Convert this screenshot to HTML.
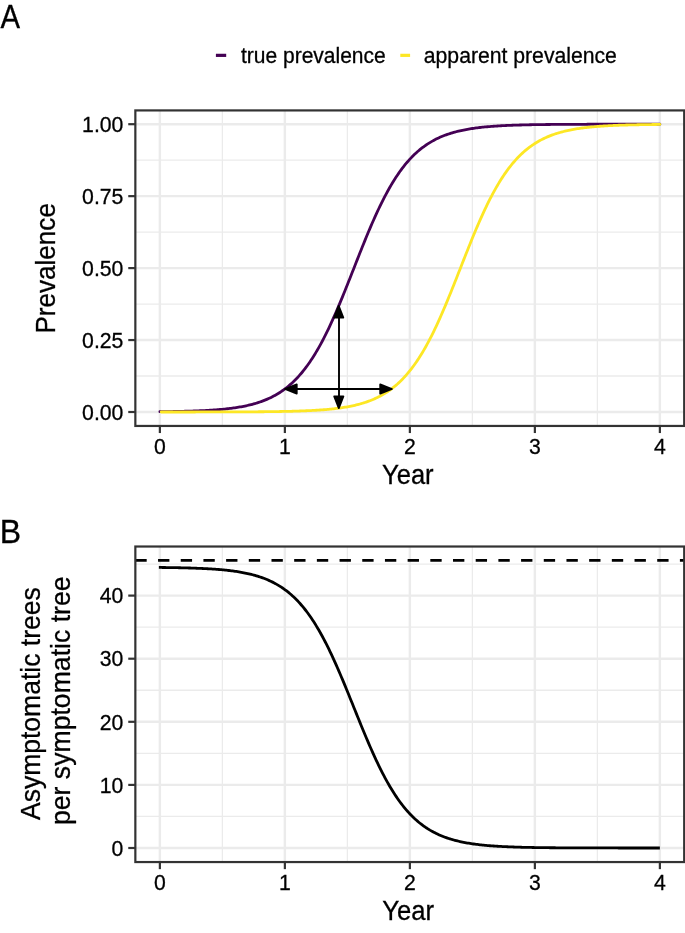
<!DOCTYPE html><html><head><meta charset="utf-8"><style>html,body{margin:0;padding:0;background:#fff;}svg{display:block;will-change:transform;}text{font-family:"Liberation Sans", sans-serif;fill:#000;stroke:#000;stroke-width:0.3px;}</style></head><body>
<svg width="685" height="933" viewBox="0 0 685 933">
<rect x="0" y="0" width="685" height="933" fill="#fff"/>
<g stroke="#EBEBEB" fill="none">
<line x1="222.37" y1="110.42" x2="222.37" y2="425.95" stroke-width="1.3"/>
<line x1="347.37" y1="110.42" x2="347.37" y2="425.95" stroke-width="1.3"/>
<line x1="472.37" y1="110.42" x2="472.37" y2="425.95" stroke-width="1.3"/>
<line x1="597.37" y1="110.42" x2="597.37" y2="425.95" stroke-width="1.3"/>
<line x1="135.35" y1="376.02" x2="684.20" y2="376.02" stroke-width="1.3"/>
<line x1="135.35" y1="304.07" x2="684.20" y2="304.07" stroke-width="1.3"/>
<line x1="135.35" y1="232.12" x2="684.20" y2="232.12" stroke-width="1.3"/>
<line x1="135.35" y1="160.17" x2="684.20" y2="160.17" stroke-width="1.3"/>
<line x1="159.87" y1="110.42" x2="159.87" y2="425.95" stroke-width="2.4"/>
<line x1="284.87" y1="110.42" x2="284.87" y2="425.95" stroke-width="2.4"/>
<line x1="409.87" y1="110.42" x2="409.87" y2="425.95" stroke-width="2.4"/>
<line x1="534.87" y1="110.42" x2="534.87" y2="425.95" stroke-width="2.4"/>
<line x1="659.87" y1="110.42" x2="659.87" y2="425.95" stroke-width="2.4"/>
<line x1="135.35" y1="412.00" x2="684.20" y2="412.00" stroke-width="2.4"/>
<line x1="135.35" y1="340.05" x2="684.20" y2="340.05" stroke-width="2.4"/>
<line x1="135.35" y1="268.10" x2="684.20" y2="268.10" stroke-width="2.4"/>
<line x1="135.35" y1="196.15" x2="684.20" y2="196.15" stroke-width="2.4"/>
<line x1="135.35" y1="124.20" x2="684.20" y2="124.20" stroke-width="2.4"/>
</g>
<g stroke="#EBEBEB" fill="none">
<line x1="222.37" y1="546.52" x2="222.37" y2="862.05" stroke-width="1.3"/>
<line x1="347.37" y1="546.52" x2="347.37" y2="862.05" stroke-width="1.3"/>
<line x1="472.37" y1="546.52" x2="472.37" y2="862.05" stroke-width="1.3"/>
<line x1="597.37" y1="546.52" x2="597.37" y2="862.05" stroke-width="1.3"/>
<line x1="135.35" y1="816.45" x2="684.20" y2="816.45" stroke-width="1.3"/>
<line x1="135.35" y1="753.35" x2="684.20" y2="753.35" stroke-width="1.3"/>
<line x1="135.35" y1="690.25" x2="684.20" y2="690.25" stroke-width="1.3"/>
<line x1="135.35" y1="627.15" x2="684.20" y2="627.15" stroke-width="1.3"/>
<line x1="135.35" y1="564.05" x2="684.20" y2="564.05" stroke-width="1.3"/>
<line x1="159.87" y1="546.52" x2="159.87" y2="862.05" stroke-width="2.4"/>
<line x1="284.87" y1="546.52" x2="284.87" y2="862.05" stroke-width="2.4"/>
<line x1="409.87" y1="546.52" x2="409.87" y2="862.05" stroke-width="2.4"/>
<line x1="534.87" y1="546.52" x2="534.87" y2="862.05" stroke-width="2.4"/>
<line x1="659.87" y1="546.52" x2="659.87" y2="862.05" stroke-width="2.4"/>
<line x1="135.35" y1="848.00" x2="684.20" y2="848.00" stroke-width="2.4"/>
<line x1="135.35" y1="784.90" x2="684.20" y2="784.90" stroke-width="2.4"/>
<line x1="135.35" y1="721.80" x2="684.20" y2="721.80" stroke-width="2.4"/>
<line x1="135.35" y1="658.70" x2="684.20" y2="658.70" stroke-width="2.4"/>
<line x1="135.35" y1="595.60" x2="684.20" y2="595.60" stroke-width="2.4"/>
</g>
<path d="M159.87,411.70 L161.12,411.69 L162.37,411.67 L163.62,411.66 L164.87,411.64 L166.12,411.62 L167.37,411.61 L168.62,411.59 L169.87,411.57 L171.12,411.55 L172.37,411.53 L173.62,411.51 L174.87,411.49 L176.12,411.47 L177.37,411.44 L178.62,411.42 L179.87,411.39 L181.12,411.36 L182.37,411.33 L183.62,411.30 L184.87,411.27 L186.12,411.24 L187.37,411.21 L188.62,411.17 L189.87,411.13 L191.12,411.09 L192.37,411.05 L193.62,411.01 L194.87,410.97 L196.12,410.92 L197.37,410.87 L198.62,410.82 L199.87,410.77 L201.12,410.71 L202.37,410.65 L203.62,410.59 L204.87,410.53 L206.12,410.46 L207.37,410.39 L208.62,410.32 L209.87,410.25 L211.12,410.17 L212.37,410.08 L213.62,410.00 L214.87,409.91 L216.12,409.82 L217.37,409.72 L218.62,409.61 L219.87,409.51 L221.12,409.40 L222.37,409.28 L223.62,409.16 L224.87,409.03 L226.12,408.90 L227.37,408.76 L228.62,408.61 L229.87,408.46 L231.12,408.31 L232.37,408.14 L233.62,407.97 L234.87,407.79 L236.12,407.60 L237.37,407.41 L238.62,407.20 L239.87,406.99 L241.12,406.77 L242.37,406.54 L243.62,406.29 L244.87,406.04 L246.12,405.78 L247.37,405.50 L248.62,405.22 L249.87,404.92 L251.12,404.61 L252.37,404.28 L253.62,403.94 L254.87,403.59 L256.12,403.22 L257.37,402.83 L258.62,402.43 L259.87,402.02 L261.12,401.58 L262.37,401.13 L263.62,400.66 L264.87,400.17 L266.12,399.65 L267.37,399.12 L268.62,398.57 L269.87,397.99 L271.12,397.39 L272.37,396.76 L273.62,396.11 L274.87,395.43 L276.12,394.73 L277.37,394.00 L278.62,393.24 L279.87,392.45 L281.12,391.63 L282.37,390.77 L283.62,389.89 L284.87,388.97 L286.12,388.02 L287.37,387.03 L288.62,386.00 L289.87,384.93 L291.12,383.83 L292.37,382.69 L293.62,381.50 L294.87,380.28 L296.12,379.01 L297.37,377.69 L298.62,376.34 L299.87,374.93 L301.12,373.48 L302.37,371.98 L303.62,370.44 L304.87,368.84 L306.12,367.19 L307.37,365.49 L308.62,363.75 L309.87,361.94 L311.12,360.09 L312.37,358.18 L313.62,356.22 L314.87,354.21 L316.12,352.14 L317.37,350.02 L318.62,347.84 L319.87,345.61 L321.12,343.32 L322.37,340.99 L323.62,338.60 L324.87,336.15 L326.12,333.66 L327.37,331.11 L328.62,328.52 L329.87,325.87 L331.12,323.18 L332.37,320.45 L333.62,317.67 L334.87,314.84 L336.12,311.98 L337.37,309.07 L338.62,306.13 L339.87,303.16 L341.12,300.15 L342.37,297.11 L343.62,294.05 L344.87,290.96 L346.12,287.85 L347.37,284.72 L348.62,281.58 L349.87,278.42 L351.12,275.25 L352.37,272.07 L353.62,268.90 L354.87,265.72 L356.12,262.54 L357.37,259.37 L358.62,256.20 L359.87,253.05 L361.12,249.91 L362.37,246.79 L363.62,243.69 L364.87,240.62 L366.12,237.56 L367.37,234.54 L368.62,231.55 L369.87,228.59 L371.12,225.67 L372.37,222.79 L373.62,219.94 L374.87,217.14 L376.12,214.38 L377.37,211.67 L378.62,209.00 L379.87,206.38 L381.12,203.81 L382.37,201.29 L383.62,198.82 L384.87,196.40 L386.12,194.04 L387.37,191.73 L388.62,189.47 L389.87,187.27 L391.12,185.12 L392.37,183.02 L393.62,180.98 L394.87,178.99 L396.12,177.06 L397.37,175.18 L398.62,173.35 L399.87,171.57 L401.12,169.85 L402.37,168.18 L403.62,166.56 L404.87,164.98 L406.12,163.46 L407.37,161.99 L408.62,160.56 L409.87,159.18 L411.12,157.84 L412.37,156.55 L413.62,155.30 L414.87,154.10 L416.12,152.94 L417.37,151.81 L418.62,150.73 L419.87,149.68 L421.12,148.67 L422.37,147.70 L423.62,146.77 L424.87,145.86 L426.12,145.00 L427.37,144.16 L428.62,143.35 L429.87,142.58 L431.12,141.83 L432.37,141.11 L433.62,140.42 L434.87,139.76 L436.12,139.12 L437.37,138.51 L438.62,137.92 L439.87,137.35 L441.12,136.81 L442.37,136.29 L443.62,135.79 L444.87,135.30 L446.12,134.84 L447.37,134.40 L448.62,133.97 L449.87,133.56 L451.12,133.17 L452.37,132.80 L453.62,132.43 L454.87,132.09 L456.12,131.76 L457.37,131.44 L458.62,131.13 L459.87,130.84 L461.12,130.56 L462.37,130.29 L463.62,130.03 L464.87,129.78 L466.12,129.55 L467.37,129.32 L468.62,129.10 L469.87,128.89 L471.12,128.69 L472.37,128.50 L473.62,128.32 L474.87,128.14 L476.12,127.98 L477.37,127.81 L478.62,127.66 L479.87,127.51 L481.12,127.37 L482.37,127.23 L483.62,127.10 L484.87,126.98 L486.12,126.86 L487.37,126.75 L488.62,126.64 L489.87,126.53 L491.12,126.43 L492.37,126.34 L493.62,126.25 L494.87,126.16 L496.12,126.07 L497.37,125.99 L498.62,125.92 L499.87,125.84 L501.12,125.77 L502.37,125.70 L503.62,125.64 L504.87,125.58 L506.12,125.52 L507.37,125.46 L508.62,125.41 L509.87,125.36 L511.12,125.31 L512.37,125.26 L513.62,125.21 L514.87,125.17 L516.12,125.13 L517.37,125.09 L518.62,125.05 L519.87,125.01 L521.12,124.98 L522.37,124.94 L523.62,124.91 L524.87,124.88 L526.12,124.85 L527.37,124.82 L528.62,124.80 L529.87,124.77 L531.12,124.75 L532.37,124.72 L533.62,124.70 L534.87,124.68 L536.12,124.66 L537.37,124.64 L538.62,124.62 L539.87,124.60 L541.12,124.58 L542.37,124.57 L543.62,124.55 L544.87,124.54 L546.12,124.52 L547.37,124.51 L548.62,124.49 L549.87,124.48 L551.12,124.47 L552.37,124.46 L553.62,124.45 L554.87,124.44 L556.12,124.43 L557.37,124.42 L558.62,124.41 L559.87,124.40 L561.12,124.39 L562.37,124.38 L563.62,124.37 L564.87,124.37 L566.12,124.36 L567.37,124.35 L568.62,124.35 L569.87,124.34 L571.12,124.33 L572.37,124.33 L573.62,124.32 L574.87,124.32 L576.12,124.31 L577.37,124.31 L578.62,124.30 L579.87,124.30 L581.12,124.29 L582.37,124.29 L583.62,124.29 L584.87,124.28 L586.12,124.28 L587.37,124.27 L588.62,124.27 L589.87,124.27 L591.12,124.27 L592.37,124.26 L593.62,124.26 L594.87,124.26 L596.12,124.25 L597.37,124.25 L598.62,124.25 L599.87,124.25 L601.12,124.25 L602.37,124.24 L603.62,124.24 L604.87,124.24 L606.12,124.24 L607.37,124.24 L608.62,124.24 L609.87,124.23 L611.12,124.23 L612.37,124.23 L613.62,124.23 L614.87,124.23 L616.12,124.23 L617.37,124.23 L618.62,124.22 L619.87,124.22 L621.12,124.22 L622.37,124.22 L623.62,124.22 L624.87,124.22 L626.12,124.22 L627.37,124.22 L628.62,124.22 L629.87,124.22 L631.12,124.22 L632.37,124.22 L633.62,124.21 L634.87,124.21 L636.12,124.21 L637.37,124.21 L638.62,124.21 L639.87,124.21 L641.12,124.21 L642.37,124.21 L643.62,124.21 L644.87,124.21 L646.12,124.21 L647.37,124.21 L648.62,124.21 L649.87,124.21 L651.12,124.21 L652.37,124.21 L653.62,124.21 L654.87,124.21 L656.12,124.21 L657.37,124.21 L658.62,124.21 L659.87,124.21" fill="none" stroke="#440154" stroke-width="2.8" stroke-linejoin="round" stroke-linecap="round"/>
<path d="M161.25,411.99 L162.49,411.99 L163.74,411.99 L164.99,411.99 L166.24,411.99 L167.49,411.99 L168.74,411.99 L169.99,411.99 L171.24,411.99 L172.49,411.99 L173.74,411.99 L174.99,411.99 L176.24,411.99 L177.49,411.99 L178.74,411.99 L179.99,411.99 L181.24,411.99 L182.49,411.98 L183.74,411.98 L184.99,411.98 L186.24,411.98 L187.49,411.98 L188.74,411.98 L189.99,411.98 L191.24,411.98 L192.49,411.98 L193.74,411.98 L194.99,411.98 L196.24,411.97 L197.49,411.97 L198.74,411.97 L199.99,411.97 L201.23,411.97 L202.48,411.97 L203.73,411.97 L204.98,411.97 L206.23,411.96 L207.48,411.96 L208.73,411.96 L209.98,411.96 L211.23,411.96 L212.48,411.96 L213.73,411.95 L214.98,411.95 L216.23,411.95 L217.48,411.95 L218.73,411.94 L219.98,411.94 L221.23,411.94 L222.48,411.94 L223.73,411.93 L224.98,411.93 L226.23,411.93 L227.48,411.92 L228.73,411.92 L229.98,411.92 L231.23,411.91 L232.48,411.91 L233.73,411.91 L234.98,411.90 L236.23,411.90 L237.48,411.89 L238.73,411.89 L239.98,411.88 L241.22,411.88 L242.47,411.87 L243.72,411.86 L244.97,411.86 L246.22,411.85 L247.47,411.85 L248.72,411.84 L249.97,411.83 L251.22,411.82 L252.47,411.82 L253.72,411.81 L254.97,411.80 L256.22,411.79 L257.47,411.78 L258.72,411.77 L259.97,411.76 L261.22,411.75 L262.47,411.74 L263.72,411.73 L264.97,411.71 L266.22,411.70 L267.47,411.69 L268.72,411.67 L269.97,411.66 L271.22,411.64 L272.47,411.63 L273.72,411.61 L274.97,411.59 L276.22,411.57 L277.47,411.55 L278.72,411.53 L279.97,411.51 L281.21,411.49 L282.46,411.47 L283.71,411.44 L284.96,411.42 L286.21,411.39 L287.46,411.37 L288.71,411.34 L289.96,411.31 L291.21,411.28 L292.46,411.24 L293.71,411.21 L294.96,411.17 L296.21,411.14 L297.46,411.10 L298.71,411.06 L299.96,411.02 L301.21,410.97 L302.46,410.92 L303.71,410.88 L304.96,410.83 L306.21,410.77 L307.46,410.72 L308.71,410.66 L309.96,410.60 L311.21,410.54 L312.46,410.47 L313.71,410.40 L314.96,410.33 L316.21,410.26 L317.46,410.18 L318.71,410.10 L319.96,410.01 L321.20,409.92 L322.45,409.83 L323.70,409.73 L324.95,409.63 L326.20,409.52 L327.45,409.41 L328.70,409.30 L329.95,409.17 L331.20,409.05 L332.45,408.92 L333.70,408.78 L334.95,408.63 L336.20,408.48 L337.45,408.33 L338.70,408.16 L339.95,407.99 L341.20,407.81 L342.45,407.63 L343.70,407.43 L344.95,407.23 L346.20,407.02 L347.45,406.80 L348.70,406.57 L349.95,406.33 L351.20,406.08 L352.45,405.81 L353.70,405.54 L354.95,405.26 L356.20,404.96 L357.45,404.65 L358.70,404.33 L359.95,403.99 L361.19,403.64 L362.44,403.27 L363.69,402.89 L364.94,402.49 L366.19,402.08 L367.44,401.64 L368.69,401.19 L369.94,400.73 L371.19,400.24 L372.44,399.73 L373.69,399.20 L374.94,398.65 L376.19,398.07 L377.44,397.47 L378.69,396.85 L379.94,396.21 L381.19,395.53 L382.44,394.83 L383.69,394.11 L384.94,393.35 L386.19,392.56 L387.44,391.75 L388.69,390.90 L389.94,390.02 L391.19,389.11 L392.44,388.16 L393.69,387.17 L394.94,386.15 L396.19,385.09 L397.44,384.00 L398.69,382.86 L399.94,381.68 L401.18,380.46 L402.43,379.20 L403.68,377.89 L404.93,376.54 L406.18,375.14 L407.43,373.70 L408.68,372.21 L409.93,370.67 L411.18,369.08 L412.43,367.44 L413.68,365.75 L414.93,364.01 L416.18,362.22 L417.43,360.37 L418.68,358.48 L419.93,356.52 L421.18,354.52 L422.43,352.46 L423.68,350.34 L424.93,348.18 L426.18,345.95 L427.43,343.68 L428.68,341.35 L429.93,338.97 L431.18,336.53 L432.43,334.05 L433.68,331.51 L434.93,328.92 L436.18,326.29 L437.43,323.60 L438.68,320.88 L439.93,318.10 L441.17,315.29 L442.42,312.43 L443.67,309.53 L444.92,306.60 L446.17,303.63 L447.42,300.63 L448.67,297.59 L449.92,294.54 L451.17,291.45 L452.42,288.34 L453.67,285.22 L454.92,282.08 L456.17,278.92 L457.42,275.76 L458.67,272.58 L459.92,269.40 L461.17,266.22 L462.42,263.05 L463.67,259.87 L464.92,256.71 L466.17,253.56 L467.42,250.42 L468.67,247.29 L469.92,244.19 L471.17,241.11 L472.42,238.06 L473.67,235.03 L474.92,232.04 L476.17,229.07 L477.42,226.15 L478.67,223.26 L479.92,220.40 L481.16,217.60 L482.41,214.83 L483.66,212.11 L484.91,209.43 L486.16,206.81 L487.41,204.23 L488.66,201.70 L489.91,199.22 L491.16,196.80 L492.41,194.43 L493.66,192.11 L494.91,189.84 L496.16,187.63 L497.41,185.47 L498.66,183.37 L499.91,181.32 L501.16,179.32 L502.41,177.38 L503.66,175.49 L504.91,173.65 L506.16,171.87 L507.41,170.14 L508.66,168.46 L509.91,166.83 L511.16,165.25 L512.41,163.72 L513.66,162.24 L514.91,160.80 L516.16,159.41 L517.41,158.07 L518.66,156.77 L519.91,155.52 L521.15,154.30 L522.40,153.13 L523.65,152.00 L524.90,150.91 L526.15,149.86 L527.40,148.85 L528.65,147.87 L529.90,146.93 L531.15,146.02 L532.40,145.14 L533.65,144.30 L534.90,143.49 L536.15,142.71 L537.40,141.96 L538.65,141.24 L539.90,140.54 L541.15,139.88 L542.40,139.23 L543.65,138.62 L544.90,138.02 L546.15,137.45 L547.40,136.91 L548.65,136.38 L549.90,135.87 L551.15,135.39 L552.40,134.92 L553.65,134.48 L554.90,134.05 L556.15,133.64 L557.40,133.24 L558.65,132.86 L559.90,132.50 L561.14,132.15 L562.39,131.81 L563.64,131.49 L564.89,131.19 L566.14,130.89 L567.39,130.61 L568.64,130.34 L569.89,130.08 L571.14,129.83 L572.39,129.59 L573.64,129.36 L574.89,129.14 L576.14,128.93 L577.39,128.73 L578.64,128.54 L579.89,128.35 L581.14,128.18 L582.39,128.01 L583.64,127.84 L584.89,127.69 L586.14,127.54 L587.39,127.40 L588.64,127.26 L589.89,127.13 L591.14,127.00 L592.39,126.88 L593.64,126.77 L594.89,126.66 L596.14,126.55 L597.39,126.45 L598.64,126.36 L599.89,126.26 L601.13,126.17 L602.38,126.09 L603.63,126.01 L604.88,125.93 L606.13,125.86 L607.38,125.78 L608.63,125.72 L609.88,125.65 L611.13,125.59 L612.38,125.53 L613.63,125.47 L614.88,125.42 L616.13,125.36 L617.38,125.31 L618.63,125.27 L619.88,125.22 L621.13,125.18 L622.38,125.13 L623.63,125.09 L624.88,125.06 L626.13,125.02 L627.38,124.98 L628.63,124.95 L629.88,124.92 L631.13,124.89 L632.38,124.86 L633.63,124.83 L634.88,124.80 L636.13,124.78 L637.38,124.75 L638.63,124.73 L639.88,124.70 L641.12,124.68 L642.37,124.66 L643.62,124.64 L644.87,124.62 L646.12,124.60 L647.37,124.59 L648.62,124.57 L649.87,124.55 L651.12,124.54 L652.37,124.52 L653.62,124.51 L654.87,124.50 L656.12,124.48 L657.37,124.47 L658.62,124.46 L659.87,124.45" fill="none" stroke="#FDE725" stroke-width="2.8" stroke-linejoin="round" stroke-linecap="round"/>
<line x1="287.05" y1="389.0" x2="389.90" y2="389.0" stroke="#000" stroke-width="1.9"/>
<polygon points="284.95,389.00 296.75,384.40 296.75,393.60" fill="#000" stroke="#000" stroke-width="1.8" stroke-linejoin="round"/>
<polygon points="392.00,389.00 380.20,393.60 380.20,384.40" fill="#000" stroke="#000" stroke-width="1.8" stroke-linejoin="round"/>
<line x1="339.0" y1="308.00" x2="339.0" y2="406.00" stroke="#000" stroke-width="1.9"/>
<polygon points="338.70,305.90 343.30,317.70 334.10,317.70" fill="#000" stroke="#000" stroke-width="1.8" stroke-linejoin="round"/>
<polygon points="338.80,408.10 334.20,396.30 343.40,396.30" fill="#000" stroke="#000" stroke-width="1.8" stroke-linejoin="round"/>
<line x1="135.35" y1="560.33" x2="684.20" y2="560.33" stroke="#000" stroke-width="2.8" stroke-dasharray="11.345 11.345"/>
<path d="M158.87,567.45 L160.12,567.46 L161.37,567.47 L162.62,567.49 L163.87,567.50 L165.12,567.52 L166.37,567.53 L167.62,567.55 L168.87,567.57 L170.11,567.59 L171.36,567.60 L172.61,567.62 L173.86,567.65 L175.11,567.67 L176.36,567.69 L177.61,567.71 L178.86,567.74 L180.11,567.76 L181.36,567.79 L182.61,567.82 L183.86,567.85 L185.11,567.88 L186.36,567.91 L187.61,567.95 L188.86,567.98 L190.10,568.02 L191.35,568.06 L192.60,568.10 L193.85,568.14 L195.10,568.18 L196.35,568.23 L197.60,568.28 L198.85,568.33 L200.10,568.38 L201.35,568.43 L202.60,568.49 L203.85,568.55 L205.10,568.61 L206.35,568.68 L207.60,568.74 L208.85,568.82 L210.09,568.89 L211.34,568.97 L212.59,569.05 L213.84,569.13 L215.09,569.22 L216.34,569.31 L217.59,569.41 L218.84,569.51 L220.09,569.61 L221.34,569.72 L222.59,569.84 L223.84,569.96 L225.09,570.08 L226.34,570.21 L227.59,570.35 L228.84,570.49 L230.08,570.64 L231.33,570.80 L232.58,570.96 L233.83,571.13 L235.08,571.30 L236.33,571.49 L237.58,571.68 L238.83,571.88 L240.08,572.09 L241.33,572.31 L242.58,572.53 L243.83,572.77 L245.08,573.02 L246.33,573.28 L247.58,573.55 L248.83,573.83 L250.07,574.12 L251.32,574.43 L252.57,574.75 L253.82,575.08 L255.07,575.43 L256.32,575.79 L257.57,576.17 L258.82,576.56 L260.07,576.97 L261.32,577.40 L262.57,577.84 L263.82,578.31 L265.07,578.79 L266.32,579.29 L267.57,579.81 L268.82,580.36 L270.06,580.93 L271.31,581.52 L272.56,582.13 L273.81,582.77 L275.06,583.43 L276.31,584.12 L277.56,584.84 L278.81,585.59 L280.06,586.36 L281.31,587.17 L282.56,588.00 L283.81,588.87 L285.06,589.77 L286.31,590.71 L287.56,591.68 L288.81,592.69 L290.05,593.73 L291.30,594.81 L292.55,595.93 L293.80,597.09 L295.05,598.30 L296.30,599.54 L297.55,600.83 L298.80,602.16 L300.05,603.53 L301.30,604.96 L302.55,606.42 L303.80,607.94 L305.05,609.50 L306.30,611.12 L307.55,612.78 L308.80,614.49 L310.04,616.26 L311.29,618.07 L312.54,619.94 L313.79,621.86 L315.04,623.83 L316.29,625.86 L317.54,627.93 L318.79,630.06 L320.04,632.25 L321.29,634.48 L322.54,636.77 L323.79,639.11 L325.04,641.50 L326.29,643.94 L327.54,646.43 L328.79,648.96 L330.03,651.55 L331.28,654.18 L332.53,656.85 L333.78,659.57 L335.03,662.33 L336.28,665.13 L337.53,667.97 L338.78,670.84 L340.03,673.75 L341.28,676.68 L342.53,679.65 L343.78,682.64 L345.03,685.65 L346.28,688.69 L347.53,691.74 L348.78,694.81 L350.02,697.90 L351.27,700.99 L352.52,704.08 L353.77,707.19 L355.02,710.29 L356.27,713.39 L357.52,716.48 L358.77,719.56 L360.02,722.64 L361.27,725.69 L362.52,728.73 L363.77,731.76 L365.02,734.75 L366.27,737.73 L367.52,740.67 L368.77,743.58 L370.01,746.47 L371.26,749.31 L372.51,752.12 L373.76,754.89 L375.01,757.62 L376.26,760.30 L377.51,762.95 L378.76,765.54 L380.01,768.09 L381.26,770.59 L382.51,773.05 L383.76,775.45 L385.01,777.80 L386.26,780.10 L387.51,782.35 L388.76,784.55 L390.00,786.69 L391.25,788.78 L392.50,790.82 L393.75,792.80 L395.00,794.74 L396.25,796.62 L397.50,798.45 L398.75,800.22 L400.00,801.95 L401.25,803.63 L402.50,805.25 L403.75,806.83 L405.00,808.36 L406.25,809.84 L407.50,811.27 L408.75,812.66 L409.99,814.00 L411.24,815.30 L412.49,816.55 L413.74,817.77 L414.99,818.94 L416.24,820.07 L417.49,821.16 L418.74,822.21 L419.99,823.23 L421.24,824.21 L422.49,825.15 L423.74,826.06 L424.99,826.94 L426.24,827.79 L427.49,828.60 L428.74,829.38 L429.98,830.14 L431.23,830.86 L432.48,831.56 L433.73,832.23 L434.98,832.87 L436.23,833.49 L437.48,834.09 L438.73,834.66 L439.98,835.21 L441.23,835.74 L442.48,836.25 L443.73,836.74 L444.98,837.20 L446.23,837.65 L447.48,838.08 L448.73,838.50 L449.97,838.90 L451.22,839.28 L452.47,839.64 L453.72,839.99 L454.97,840.33 L456.22,840.65 L457.47,840.96 L458.72,841.26 L459.97,841.54 L461.22,841.82 L462.47,842.08 L463.72,842.33 L464.97,842.57 L466.22,842.80 L467.47,843.02 L468.72,843.23 L469.96,843.43 L471.21,843.63 L472.46,843.82 L473.71,843.99 L474.96,844.16 L476.21,844.33 L477.46,844.48 L478.71,844.63 L479.96,844.78 L481.21,844.92 L482.46,845.05 L483.71,845.17 L484.96,845.30 L486.21,845.41 L487.46,845.52 L488.71,845.63 L489.95,845.73 L491.20,845.83 L492.45,845.92 L493.70,846.01 L494.95,846.09 L496.20,846.18 L497.45,846.26 L498.70,846.33 L499.95,846.40 L501.20,846.47 L502.45,846.54 L503.70,846.60 L504.95,846.66 L506.20,846.72 L507.45,846.77 L508.70,846.83 L509.94,846.88 L511.19,846.92 L512.44,846.97 L513.69,847.01 L514.94,847.06 L516.19,847.10 L517.44,847.14 L518.69,847.17 L519.94,847.21 L521.19,847.24 L522.44,847.28 L523.69,847.31 L524.94,847.34 L526.19,847.37 L527.44,847.39 L528.69,847.42 L529.93,847.44 L531.18,847.47 L532.43,847.49 L533.68,847.51 L534.93,847.53 L536.18,847.55 L537.43,847.57 L538.68,847.59 L539.93,847.61 L541.18,847.63 L542.43,847.64 L543.68,847.66 L544.93,847.67 L546.18,847.69 L547.43,847.70 L548.68,847.71 L549.92,847.73 L551.17,847.74 L552.42,847.75 L553.67,847.76 L554.92,847.77 L556.17,847.78 L557.42,847.79 L558.67,847.80 L559.92,847.81 L561.17,847.82 L562.42,847.82 L563.67,847.83 L564.92,847.84 L566.17,847.85 L567.42,847.85 L568.67,847.86 L569.91,847.86 L571.16,847.87 L572.41,847.88 L573.66,847.88 L574.91,847.89 L576.16,847.89 L577.41,847.90 L578.66,847.90 L579.91,847.90 L581.16,847.91 L582.41,847.91 L583.66,847.92 L584.91,847.92 L586.16,847.92 L587.41,847.93 L588.66,847.93 L589.90,847.93 L591.15,847.94 L592.40,847.94 L593.65,847.94 L594.90,847.94 L596.15,847.95 L597.40,847.95 L598.65,847.95 L599.90,847.95 L601.15,847.96 L602.40,847.96 L603.65,847.96 L604.90,847.96 L606.15,847.96 L607.40,847.96 L608.65,847.97 L609.89,847.97 L611.14,847.97 L612.39,847.97 L613.64,847.97 L614.89,847.97 L616.14,847.97 L617.39,847.97 L618.64,847.98 L619.89,847.98 L621.14,847.98 L622.39,847.98 L623.64,847.98 L624.89,847.98 L626.14,847.98 L627.39,847.98 L628.64,847.98 L629.88,847.98 L631.13,847.98 L632.38,847.99 L633.63,847.99 L634.88,847.99 L636.13,847.99 L637.38,847.99 L638.63,847.99 L639.88,847.99 L641.13,847.99 L642.38,847.99 L643.63,847.99 L644.88,847.99 L646.13,847.99 L647.38,847.99 L648.63,847.99 L649.87,847.99 L651.12,847.99 L652.37,847.99 L653.62,847.99 L654.87,847.99 L656.12,847.99 L657.37,847.99 L658.62,847.99 L659.87,847.99" fill="none" stroke="#000" stroke-width="2.8" stroke-linejoin="round"/>
<rect x="135.35" y="110.42" width="548.85" height="315.53" fill="none" stroke="#333333" stroke-width="2.2"/>
<g stroke="#333333" stroke-width="2.2">
<line x1="159.87" y1="425.95" x2="159.87" y2="433.05"/>
<line x1="284.87" y1="425.95" x2="284.87" y2="433.05"/>
<line x1="409.87" y1="425.95" x2="409.87" y2="433.05"/>
<line x1="534.87" y1="425.95" x2="534.87" y2="433.05"/>
<line x1="659.87" y1="425.95" x2="659.87" y2="433.05"/>
<line x1="128.25" y1="412.00" x2="135.35" y2="412.00"/>
<line x1="128.25" y1="340.05" x2="135.35" y2="340.05"/>
<line x1="128.25" y1="268.10" x2="135.35" y2="268.10"/>
<line x1="128.25" y1="196.15" x2="135.35" y2="196.15"/>
<line x1="128.25" y1="124.20" x2="135.35" y2="124.20"/>
</g>
<rect x="135.35" y="546.52" width="548.85" height="315.53" fill="none" stroke="#333333" stroke-width="2.2"/>
<g stroke="#333333" stroke-width="2.2">
<line x1="159.87" y1="862.05" x2="159.87" y2="869.15"/>
<line x1="284.87" y1="862.05" x2="284.87" y2="869.15"/>
<line x1="409.87" y1="862.05" x2="409.87" y2="869.15"/>
<line x1="534.87" y1="862.05" x2="534.87" y2="869.15"/>
<line x1="659.87" y1="862.05" x2="659.87" y2="869.15"/>
<line x1="128.25" y1="848.00" x2="135.35" y2="848.00"/>
<line x1="128.25" y1="784.90" x2="135.35" y2="784.90"/>
<line x1="128.25" y1="721.80" x2="135.35" y2="721.80"/>
<line x1="128.25" y1="658.70" x2="135.35" y2="658.70"/>
<line x1="128.25" y1="595.60" x2="135.35" y2="595.60"/>
</g>
<line x1="215.9" y1="55.35" x2="226.2" y2="55.35" stroke="#440154" stroke-width="3.2"/>
<line x1="400.3" y1="55.35" x2="410.1" y2="55.35" stroke="#FDE725" stroke-width="3.2"/>
<text x="0.60" y="27.70" font-size="32.6" textLength="19.54" lengthAdjust="spacingAndGlyphs">A</text>
<text x="-0.20" y="542.70" font-size="32.6" textLength="21.34" lengthAdjust="spacingAndGlyphs">B</text>
<text x="241.00" y="62.80" font-size="22.0" textLength="144.69" lengthAdjust="spacingAndGlyphs">true prevalence</text>
<text x="423.80" y="62.80" font-size="22.0" textLength="193.09" lengthAdjust="spacingAndGlyphs">apparent prevalence</text>
<text x="382.00" y="483.60" font-size="27.6" textLength="51.62" lengthAdjust="spacingAndGlyphs">Year</text>
<text x="382.20" y="919.80" font-size="27.6" textLength="51.85" lengthAdjust="spacingAndGlyphs">Year</text>
<text transform="translate(55.10,333.60) rotate(-90)" font-size="27.6" textLength="130.50" lengthAdjust="spacingAndGlyphs">Prevalence</text>
<text transform="translate(40.30,820.00) rotate(-90)" font-size="27.6" textLength="232.72" lengthAdjust="spacingAndGlyphs">Asymptomatic trees</text>
<text transform="translate(69.80,825.00) rotate(-90)" font-size="27.6" textLength="248.56" lengthAdjust="spacingAndGlyphs">per symptomatic tree</text>
<text x="123.40" y="419.50" font-size="22.0" textLength="41.31" lengthAdjust="spacingAndGlyphs" text-anchor="end">0.00</text>
<text x="123.40" y="347.55" font-size="22.0" textLength="41.31" lengthAdjust="spacingAndGlyphs" text-anchor="end">0.25</text>
<text x="123.40" y="275.60" font-size="22.0" textLength="41.31" lengthAdjust="spacingAndGlyphs" text-anchor="end">0.50</text>
<text x="123.40" y="203.65" font-size="22.0" textLength="41.31" lengthAdjust="spacingAndGlyphs" text-anchor="end">0.75</text>
<text x="123.40" y="131.70" font-size="22.0" textLength="41.31" lengthAdjust="spacingAndGlyphs" text-anchor="end">1.00</text>
<text x="123.40" y="855.70" font-size="22.0" textLength="11.80" lengthAdjust="spacingAndGlyphs" text-anchor="end">0</text>
<text x="123.40" y="792.60" font-size="22.0" textLength="23.61" lengthAdjust="spacingAndGlyphs" text-anchor="end">10</text>
<text x="123.40" y="729.50" font-size="22.0" textLength="23.61" lengthAdjust="spacingAndGlyphs" text-anchor="end">20</text>
<text x="123.40" y="666.40" font-size="22.0" textLength="23.61" lengthAdjust="spacingAndGlyphs" text-anchor="end">30</text>
<text x="123.40" y="603.30" font-size="22.0" textLength="23.61" lengthAdjust="spacingAndGlyphs" text-anchor="end">40</text>
<text x="159.87" y="453.90" font-size="22.0" textLength="11.80" lengthAdjust="spacingAndGlyphs" text-anchor="middle">0</text>
<text x="159.87" y="889.70" font-size="22.0" textLength="11.80" lengthAdjust="spacingAndGlyphs" text-anchor="middle">0</text>
<text x="284.87" y="453.90" font-size="22.0" textLength="11.80" lengthAdjust="spacingAndGlyphs" text-anchor="middle">1</text>
<text x="284.87" y="889.70" font-size="22.0" textLength="11.80" lengthAdjust="spacingAndGlyphs" text-anchor="middle">1</text>
<text x="409.87" y="453.90" font-size="22.0" textLength="11.80" lengthAdjust="spacingAndGlyphs" text-anchor="middle">2</text>
<text x="409.87" y="889.70" font-size="22.0" textLength="11.80" lengthAdjust="spacingAndGlyphs" text-anchor="middle">2</text>
<text x="534.87" y="453.90" font-size="22.0" textLength="11.80" lengthAdjust="spacingAndGlyphs" text-anchor="middle">3</text>
<text x="534.87" y="889.70" font-size="22.0" textLength="11.80" lengthAdjust="spacingAndGlyphs" text-anchor="middle">3</text>
<text x="659.87" y="453.90" font-size="22.0" textLength="11.80" lengthAdjust="spacingAndGlyphs" text-anchor="middle">4</text>
<text x="659.87" y="889.70" font-size="22.0" textLength="11.80" lengthAdjust="spacingAndGlyphs" text-anchor="middle">4</text>
</svg></body></html>
